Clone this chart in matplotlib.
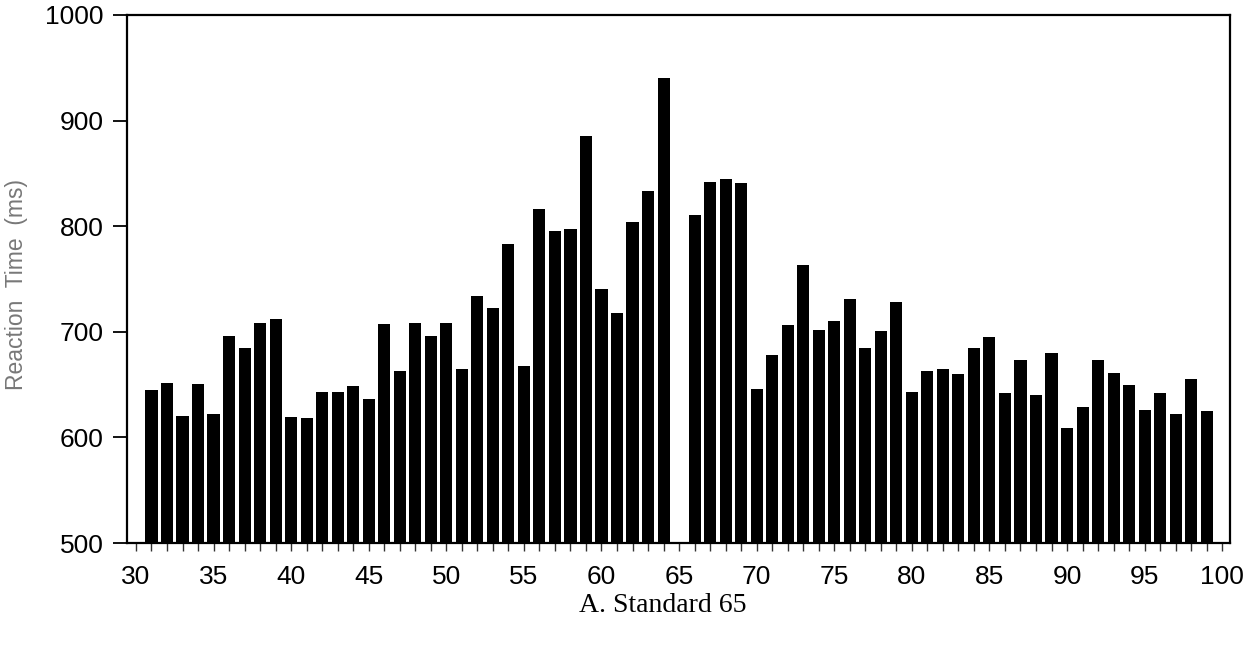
import matplotlib
matplotlib.use("Agg")
import matplotlib.pyplot as plt
import numpy as np

# Mean reaction time per comparison value (standard = 65, no bar at 65)
comparison = [31, 32, 33, 34, 35, 36, 37, 38, 39, 40,
              41, 42, 43, 44, 45, 46, 47, 48, 49, 50,
              51, 52, 53, 54, 55, 56, 57, 58, 59, 60,
              61, 62, 63, 64, 66, 67, 68, 69, 70,
              71, 72, 73, 74, 75, 76, 77, 78, 79, 80,
              81, 82, 83, 84, 85, 86, 87, 88, 89, 90,
              91, 92, 93, 94, 95, 96, 97, 98, 99]
rt_ms = [645, 652, 620, 651, 622, 696, 685, 708, 712, 619,
         618, 643, 643, 649, 636, 707, 663, 708, 696, 708,
         665, 734, 723, 783, 668, 816, 795, 797, 885, 741,
         718, 804, 833, 940, 811, 842, 845, 841, 646,
         678, 706, 763, 702, 710, 731, 685, 701, 728, 643,
         663, 665, 660, 685, 695, 642, 673, 640, 680, 609,
         629, 673, 661, 650, 626, 642, 622, 655, 625]

major_ticks = np.arange(30, 101, 5)
minor_ticks = np.arange(30, 101, 1)
y_ticks = [500, 600, 700, 800, 900, 1000]

plt.rcParams["font.family"] = ["Liberation Sans", "DejaVu Sans"]

fig = plt.figure(figsize=(12.57, 6.46), dpi=100)
ax = fig.add_axes([0.101, 0.1594, 0.8775, 0.8174])

ax.bar(comparison, rt_ms, width=0.78, bottom=0, color="black",
       edgecolor="none", zorder=2)

ax.set_xlim(29.42, 100.5)
ax.set_ylim(500, 1000)

for side in ["left", "right", "top", "bottom"]:
    ax.spines[side].set_linewidth(1.6)
    ax.spines[side].set_color("black")

ax.set_yticks(y_ticks)
ax.set_xticks(major_ticks)
ax.set_xticks(minor_ticks, minor=True)
ax.tick_params(axis="y", direction="out", length=10, width=1.3,
               labelsize=19, pad=7)
ax.tick_params(axis="x", which="both", direction="out", length=6, width=1.0,
               labelsize=19, pad=10, color="#333333")

# y label drawn as figure text so it sits near the left edge
fig.text(0.0135, 0.56, "Reaction  Time  (ms)", fontsize=16.5, color="#787878",
         rotation=90, ha="center", va="center")

fig.text(0.527, 0.063, "A. Standard 65", family="Liberation Serif",
         fontsize=20, ha="center", va="center")

fig.savefig("out.png", dpi=100)
